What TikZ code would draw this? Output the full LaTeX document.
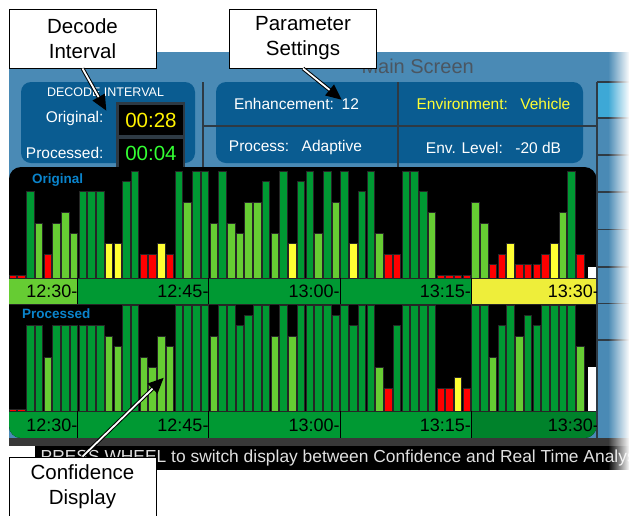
\documentclass[tikz,border=0pt]{standalone}
\usepackage{fontspec}
\setmainfont{Liberation Sans}
\usetikzlibrary{arrows.meta,fadings}

\definecolor{panelblue}{HTML}{4A8AB5}
\definecolor{boxblue}{HTML}{0A5C91}
\definecolor{sidecyan}{HTML}{3DA8D6}
\definecolor{linegray}{HTML}{2E3A44}
\definecolor{bardark}{HTML}{009933}
\definecolor{barlight}{HTML}{66CC33}
\definecolor{baryellow}{HTML}{FFFF33}
\definecolor{barred}{HTML}{FF0000}
\definecolor{timeyellow}{HTML}{EEEE3A}
\definecolor{labelblue}{HTML}{0A84CC}
\definecolor{titlegray}{HTML}{4B5661}
\definecolor{digitgreen}{HTML}{33FF33}
\definecolor{envyellow}{HTML}{FFFF33}

\tikzset{
  callout/.style={draw=black, fill=white, line width=0.9pt, minimum width=147pt, minimum height=59pt, inner sep=0pt, align=center, font=\fontsize{20.5}{25}\selectfont},
  pointer/.style={line width=3.8pt, -{Triangle[length=16pt,width=13pt]}, postaction={draw=white, line width=1.8pt, -, shorten >=16pt}},
  paneltext/.style={text=white, font=\fontsize{15.5}{18}\selectfont},
  timelabel/.style={anchor=east, inner sep=0pt, font=\fontsize{18}{20}\selectfont},
  chartlabel/.style={anchor=west, inner sep=0pt, text=labelblue, font=\bfseries\fontsize{13.5}{15}\selectfont},
  divider/.style={linegray, line width=1.2pt},
}

\begin{document}
\begin{tikzpicture}[x=1pt, y=-1pt]
\def\barpitch{8.73}
\def\barstart{8.5}
\def\levstep{10.4}
\useasboundingbox (0,0) rectangle (629,515);

% SCREEN BACKGROUND
\fill[panelblue] (9,52) rectangle (629,438);
\node[anchor=east, inner sep=0pt, text=titlegray, font=\fontsize{20}{24}\selectfont] (title) at (474,66.5) {Main Screen};

% SIDE BUTTONS
\fill[sidecyan] (597,82) rectangle (629,118);
\foreach \y in {82,118,155,192,229.5,267,303.5,340}
  \draw[divider] (597,\y) -- (629,\y);
\draw[divider] (597,82) -- (597,438);

% TOP ROW
\fill[boxblue, rounded corners=10] (21,82) rectangle (195,163);
\fill[boxblue, rounded corners=10] (216,82) rectangle (583,163);
\draw[divider] (203,82) -- (203,168);
\draw[divider] (398,82) -- (398,168);
\draw[divider] (203,126) -- (597,126);

\node[text=white, font=\fontsize{12.5}{15}\selectfont] (decodehead) at (105.5,92) {DECODE INTERVAL};
\node[paneltext, anchor=east] (origlabel) at (107,118) {Original:};
\node[paneltext, anchor=east] (proclabel) at (107,153) {Processed:};
\fill[linegray] (116,102) rectangle (185,170);
\fill[black] (119,105) rectangle (183,135);
\fill[black] (119,138.5) rectangle (183,168);
\node[text=yellow, font=\fontsize{20.5}{24}\selectfont] (origtime) at (151,120) {00:28};
\node[text=digitgreen, font=\fontsize{20.5}{24}\selectfont] (proctime) at (151,153) {00:04};

\node[paneltext] (enhance) at (296.5,104) {Enhancement:\hspace{0.5em}12};
\node[paneltext, text=envyellow] (environ) at (493.5,104) {Environment:\hspace{0.8em}Vehicle};
\node[paneltext] (process) at (295.5,147.5) {Process:\hspace{0.8em}Adaptive};
\node[paneltext] (envlevel) at (493.5,147.5) {Env. Level:\hspace{0.8em}-20 dB};

% CHARTS
\begin{scope}
\clip[rounded corners=12] (9,167) rectangle (596.5,438);
\fill[black] (9,167) rectangle (596.5,438);

% top chart, one bar per minute
\foreach \lev [count=\i from 0] in {0,0,8,5,2,5,6,4,8,8, 8,3,3,9,10,2,2,3,2,10,
    7,10,10,5,10,5,4,7,7,9, 4,10,3,9,10,4,10,7,10,3, 8,10,4,2,2,10,10,8,6,0,
    0,0,0,7,5,1,2,3,1,1, 1,2,3,6,10,2} {
  \ifnum\lev>7 \def\barcol{bardark}\else\ifnum\lev>3 \def\barcol{barlight}\else\ifnum\lev>2 \def\barcol{baryellow}\else\def\barcol{barred}\fi\fi\fi
  \filldraw[fill=\barcol, draw=black!85, line width=0.7pt] (\barstart+\barpitch*\i+0.6,278) rectangle (\barstart+\barpitch*\i+8.1,275-\levstep*\lev);
}
\fill[white] (588,278) rectangle (597,267);

% bottom chart
\foreach \lev [count=\i from 0] in {0,0,8,8,5,8,8,8,8,8, 8,7,6,10,10,5,4,7,6,10,
    10,10,10,7,10,10,8,9,10,10, 7,10,7,10,10,10,10,9,10,8, 10,10,4,2,8,10,10,10,10,2,
    2,3,2,10,10,5,8,10,7,9, 8,10,10,10,10,6} {
  \ifnum\lev>7 \def\barcol{bardark}\else\ifnum\lev>3 \def\barcol{barlight}\else\ifnum\lev>2 \def\barcol{baryellow}\else\def\barcol{barred}\fi\fi\fi
  \filldraw[fill=\barcol, draw=black!85, line width=0.7pt] (\barstart+\barpitch*\i+0.6,411) rectangle (\barstart+\barpitch*\i+8.1,409-\levstep*\lev);
}
\fill[white] (588,411) rectangle (597,367);

% time bars
\fill[barlight] (9,278) rectangle (77.5,304);
\fill[bardark] (77.5,278) rectangle (471.1,304);
\fill[timeyellow] (471.1,278) rectangle (597,304);
\fill[bardark] (9,411) rectangle (471.1,438);
\fill[bardark!85!black] (471.1,411) rectangle (597,438);
\draw[black!85, line width=0.8pt] (9,278) -- (597,278) (9,304) -- (597,304) (9,411) -- (597,411);
\foreach \t in {77.5,208.7,339.9,471.1}
  \draw[black, line width=0.8pt] (\t,278) -- (\t,304) (\t,411) -- (\t,438);
\foreach \tx/\t [count=\k] in {77.5/12:30,208.7/12:45,339.9/13:00,471.1/13:15,599/13:30} {
  \node[timelabel] (toptime\k) at (\tx,291) {\t-};
  \node[timelabel] (bottime\k) at (\tx,425) {\t-};
}

\node[chartlabel] (origchart) at (32,180) {Original};
\node[chartlabel] (procchart) at (22,314) {Processed};
\end{scope}

% HINT LINE
\fill[black!78] (9,438) rectangle (629,446);
\fill[black] (35,446) rectangle (629,470);
\node[anchor=west, inner sep=0pt, text=white!88!black, font=\fontsize{17.4}{20}\selectfont] (hint) at (40.5,458) {PRESS WHEEL to switch display between Confidence and Real Time Analysis};

% fade out on the right
\fill[white, path fading=west] (608,45) rectangle (629.5,475);

% CALLOUTS
\node[callout] (decodecallout) at (82.5,38.5) {Decode\\Interval};
\node[callout] (paramcallout) at (303,38.5) {Parameter\\Settings};
\node[callout] (confcallout) at (82.5,486.5) {Confidence\\Display};

\coordinate (decodetip) at (106.5,111);
\coordinate (paramtip) at (342,100);
\coordinate (conftip) at (164,377.5);
\draw[pointer] (decodecallout.south) -- (decodetip);
\draw[pointer] (paramcallout.south) -- (paramtip);
\draw[pointer] (confcallout.north) -- (conftip);
\end{tikzpicture}
\end{document}
